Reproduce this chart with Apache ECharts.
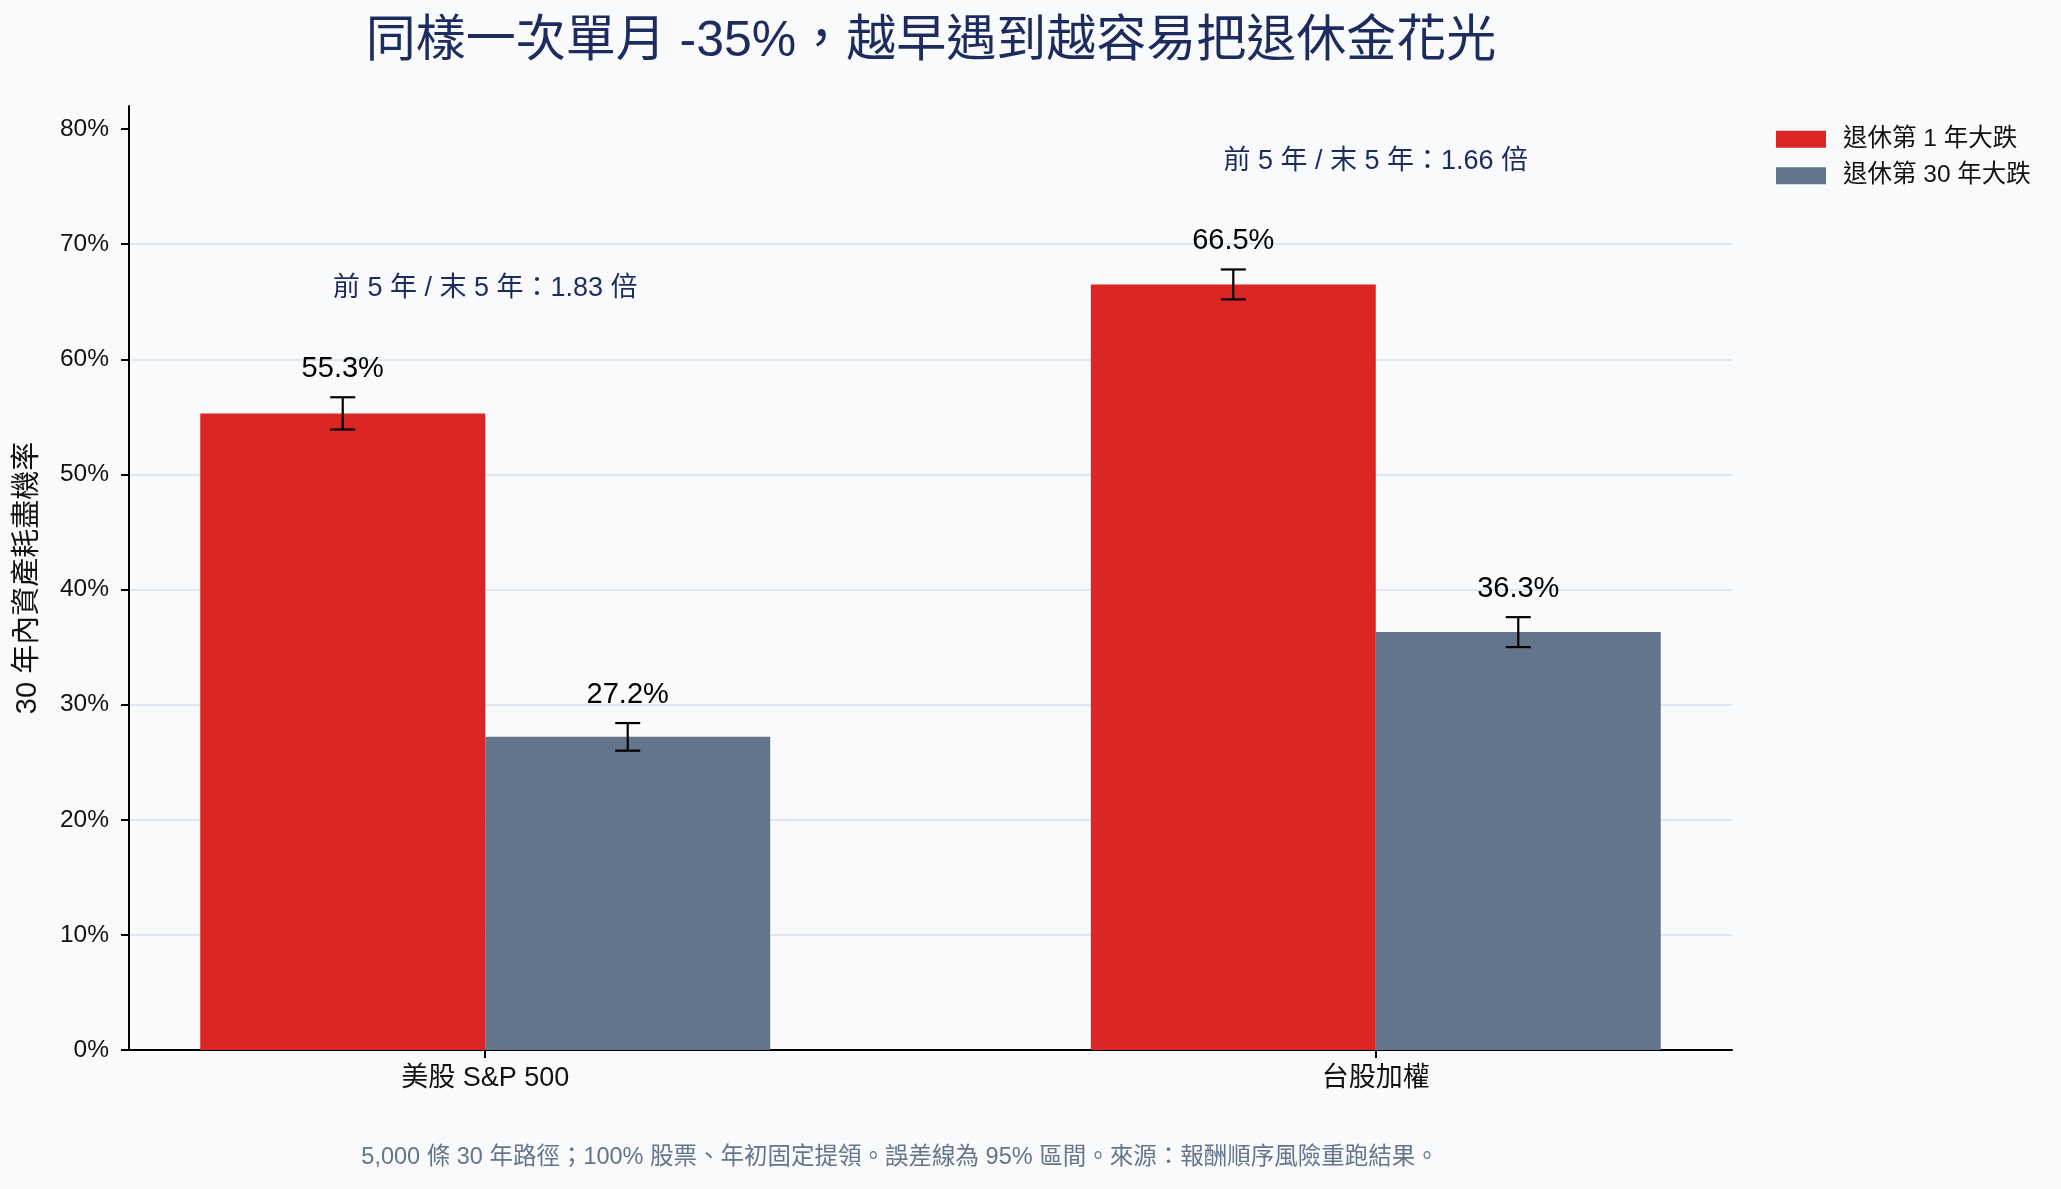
<!DOCTYPE html>
<html lang="zh-Hant">
<head>
<meta charset="utf-8">
<title>退休金耗盡機率</title>
<script src="https://cdn.jsdelivr.net/npm/echarts@6/dist/echarts.min.js"></script>
<style>
    html, body { margin: 0; padding: 0; background: #f8fafc; }
    #chart { width: 2061px; height: 1189px; }
</style>
</head>
<body>
<div id="chart"></div>
<script>
    // 資料
    const categories = ['美股 S&P 500', '台股加權'];
    const seriesNames = ['退休第 1 年大跌', '退休第 30 年大跌'];
    const earlyCrash = [55.3, 66.5];      // 退休第 1 年大跌
    const earlyLow = [53.9, 65.2];
    const earlyHigh = [56.7, 67.8];
    const lateCrash = [27.2, 36.3];       // 退休第 30 年大跌
    const lateLow = [26.0, 35.0];
    const lateHigh = [28.4, 37.6];
    const ratioNotes = ['前 5 年 / 末 5 年：1.83 倍', '前 5 年 / 末 5 年：1.66 倍'];
    const yTicks = [0, 10, 20, 30, 40, 50, 60, 70, 80];

    const FONT = "'Liberation Sans', 'Noto Sans CJK TC', sans-serif";
    const NAVY = '#1e2b5e';
    const BAR_W = 0.32;

    // 長條 + 誤差線 + 數值標籤
    function makeSeries(name, color, values, lows, highs, side, notes) {
        return {
            type: 'custom',
            name: name,
            itemStyle: { color: color },
            data: values.map((v, i) => [i, v, lows[i], highs[i]]),
            encode: { x: 0, y: 1 },
            renderItem: function (params, api) {
                const i = api.value(0), v = api.value(1);
                const lo = api.value(2), hi = api.value(3);
                const x0 = side < 0 ? i - BAR_W : i;
                const x1 = side < 0 ? i : i + BAR_W;
                const p0 = api.coord([x0, v]);
                const p1 = api.coord([x1, 0]);
                const cx = api.coord([i + side * BAR_W / 2, 0])[0];
                const yLo = api.coord([i, lo])[1];
                const yHi = api.coord([i, hi])[1];
                const cap = 12.5;
                const errStyle = { stroke: '#000', lineWidth: 2.2 };
                const children = [
                    { type: 'rect', shape: { x: p0[0], y: p0[1], width: p1[0] - p0[0], height: p1[1] - p0[1] }, style: { fill: color } },
                    { type: 'line', shape: { x1: cx, y1: yLo, x2: cx, y2: yHi }, style: errStyle },
                    { type: 'line', shape: { x1: cx - cap, y1: yLo, x2: cx + cap, y2: yLo }, style: errStyle },
                    { type: 'line', shape: { x1: cx - cap, y1: yHi, x2: cx + cap, y2: yHi }, style: errStyle },
                    { type: 'text', x: cx, y: yHi - 14, style: { text: v.toFixed(1) + '%', align: 'center', verticalAlign: 'bottom', fontSize: 29, fontFamily: FONT, fill: '#000' } }
                ];
                if (notes) {
                    const np = api.coord([i, hi + 9.4]);
                    children.push({ type: 'text', x: np[0], y: np[1], style: { text: notes[params.dataIndex], align: 'center', verticalAlign: 'middle', fontSize: 27, fontFamily: FONT, fill: NAVY } });
                }
                return { type: 'group', children: children };
            }
        };
    }

    const chart = echarts.init(document.getElementById('chart'));
    chart.setOption({
        backgroundColor: '#f8fafc',
        textStyle: { fontFamily: FONT },
        animation: false,
        grid: { left: 129, right: 329, top: 106, bottom: 139 },
        legend: {
            data: seriesNames,
            orient: 'vertical',
            left: 1771,
            top: 122,
            icon: 'rect',
            itemWidth: 50,
            itemHeight: 17,
            itemGap: 12,
            textStyle: { fontSize: 24.5, lineHeight: 24, color: '#111', fontFamily: FONT, padding: [0, 0, 0, 12] }
        },
        xAxis: {
            type: 'value',
            min: -0.4,
            max: 1.4,
            axisLine: { show: true, lineStyle: { color: '#000', width: 2 } },
            axisTick: { show: true, length: 8, lineStyle: { color: '#000', width: 2 }, customValues: [0, 1] },
            axisLabel: {
                customValues: [0, 1],
                formatter: v => categories[Math.round(v)] || '',
                fontSize: 27, color: '#111', margin: 15, fontFamily: FONT
            },
            splitLine: { show: false }
        },
        yAxis: {
            type: 'value',
            min: 0,
            max: 82,
            interval: 10,
            name: '30 年內資產耗盡機率',
            nameLocation: 'middle',
            nameRotate: 90,
            nameGap: 86,
            nameTextStyle: { fontSize: 29, color: '#111', fontFamily: FONT },
            axisLine: { show: true, onZero: false, lineStyle: { color: '#000', width: 2 } },
            axisTick: { show: true, length: 8, lineStyle: { color: '#000', width: 2 }, customValues: yTicks },
            axisLabel: {
                customValues: yTicks,
                formatter: v => v + '%',
                fontSize: 24.5, color: '#111', margin: 20, fontFamily: FONT
            },
            splitLine: { show: true, showMaxLine: false, lineStyle: { color: '#d8dfea', width: 1.5 } }
        },
        graphic: [
            { type: 'text', x: 931, y: 42, style: { text: '同樣一次單月 -35%，越早遇到越容易把退休金花光', align: 'center', verticalAlign: 'middle', fontSize: 50, fontFamily: FONT, fill: NAVY } },
            { type: 'text', x: 900, y: 1158, style: { text: '5,000 條 30 年路徑；100% 股票、年初固定提領。誤差線為 95% 區間。來源：報酬順序風險重跑結果。', align: 'center', verticalAlign: 'middle', fontSize: 23.5, fontFamily: FONT, fill: '#64748b' } }
        ],
        series: [
            makeSeries(seriesNames[0], '#dc2626', earlyCrash, earlyLow, earlyHigh, -1, ratioNotes),
            makeSeries(seriesNames[1], '#64748b', lateCrash, lateLow, lateHigh, 1, null)
        ]
    });
</script>
</body>
</html>
